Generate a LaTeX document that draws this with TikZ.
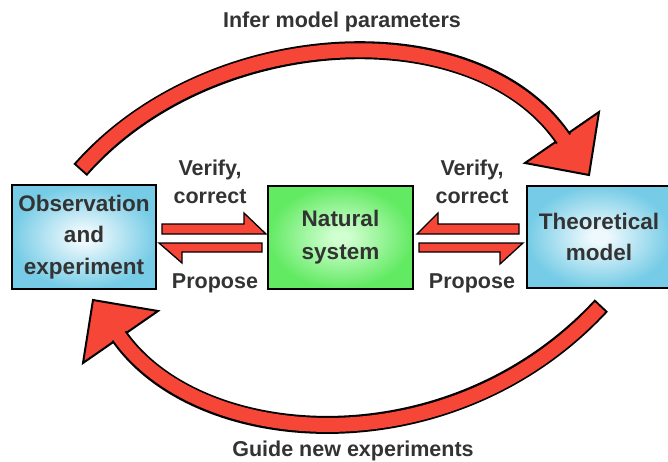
\documentclass[tikz,border=0pt]{standalone}
\usepackage{fontspec}
\setmainfont{Liberation Sans}
\usepackage{tikz}
\usetikzlibrary{calc}

\definecolor{arrowRed}{RGB}{245,70,55}
\definecolor{textGray}{RGB}{51,51,51}
\definecolor{blueEdge}{RGB}{118,204,230}
\definecolor{blueCore}{RGB}{238,249,253}
\definecolor{greenEdge}{RGB}{98,234,98}
\definecolor{greenCore}{RGB}{208,255,208}
\pgfdeclareradialshading{blueGlow}{\pgfpoint{0bp}{0bp}}{color(0bp)=(blueCore); color(3bp)=(blueCore); color(25bp)=(blueEdge); color(50bp)=(blueEdge)}
\pgfdeclareradialshading{greenGlow}{\pgfpoint{0bp}{0bp}}{color(0bp)=(greenCore); color(3bp)=(greenCore); color(25bp)=(greenEdge); color(50bp)=(greenEdge)}

\begin{document}
\begin{tikzpicture}[
    x=1pt, y=-1pt,
    every node/.style={text=textGray, font=\bfseries\fontsize{21.5}{28}\selectfont},
    blueBox/.style={rectangle, draw=black, line width=2pt, shading=blueGlow, minimum width=144pt, minimum height=104pt, inner sep=0pt, align=center, font=\bfseries\fontsize{22.5}{31.5}\selectfont},
    greenBox/.style={rectangle, draw=black, line width=2pt, shading=greenGlow, minimum width=145pt, minimum height=103pt, inner sep=0pt, align=center, font=\bfseries\fontsize{22.5}{32.5}\selectfont},
    halfArrow/.style={draw=black, line width=1.3pt, fill=arrowRed, line join=miter},
    bigHead/.style={draw=black, line width=2pt, fill=arrowRed, line join=miter},
    shaftOut/.style={draw=black, line width=18pt},
    shaftIn/.style={draw=arrowRed, line width=14pt}
]
\useasboundingbox (0,0) rectangle (668,461);

% ============== Boxes ==============
\node[blueBox]  (obs)  at (84,237)    {Observation\\and\\experiment};
\node[greenBox] (nat)  at (340.5,237) {Natural\\system};
\node[blueBox, minimum height=102pt] (theo) at (599,237) {Theoretical\\model};

% ============== Labels ==============
\node[align=center] (vcLeft)  at (210,182) {Verify,\\correct};
\node               (prLeft)  at (215,283) {Propose};
\node[align=center] (vcRight) at (472,182) {Verify,\\correct};
\node               (prRight) at (472,283) {Propose};
\node               (infer)   at (342,22)  {Infer model parameters};
\node               (guide)   at (353,451) {Guide new experiments};

% ============== Verify / propose ==============
\draw[halfArrow] ($(obs.east)+(5,-13)$) -- ++(82,0) -- ++(0,-11) -- ++(22,21) -- ++(-104,0) -- cycle;
\draw[halfArrow] ($(nat.west)+(-5,6)$) -- ++(-103,0) -- ++(23,20) -- ++(0,-11) -- ++(80,0) -- cycle;
\draw[halfArrow] ($(theo.west)+(-7,-13)$) -- ++(-81,0) -- ++(0,-11) -- ++(-21,21) -- ++(102,0) -- cycle;
\draw[halfArrow] ($(nat.east)+(5,6)$) -- ++(104,0) -- ++(-23,21) -- ++(0,-12) -- ++(-81,0) -- cycle;

% ============== Infer model parameters ==============
\coordinate (inferA) at ($(obs.north)+(-2.5,-15.5)$);
\coordinate (inferB) at ($(theo.north)+(-35.5,-46)$);
\draw[bigHead] ($(inferB)+(35.5,-27)$) -- ($(inferB)+(25.5,36)$) -- ($(inferB)+(-38.5,24)$) -- cycle;
\draw[shaftOut, shorten <=-2pt] (inferA) .. controls +(128.7,-146.25) and +(-86.8,-128.7) .. (inferB);
\draw[shaftIn, shorten >=-1.5pt] (inferA) .. controls +(128.7,-146.25) and +(-86.8,-128.7) .. (inferB);

% ============== Guide new experiments ==============
\coordinate (guideA) at ($(theo.south)+(1,18)$);
\coordinate (guideB) at ($(obs.south)+(35,46)$);
\draw[bigHead] ($(guideB)+(-26,-36)$) -- ($(guideB)+(39,-25)$) -- ($(guideB)+(-36,27)$) -- cycle;
\draw[shaftOut, shorten <=-2pt] (guideA) .. controls +(-149.6,161.3) and +(79.8,114.8) .. (guideB);
\draw[shaftIn, shorten >=-1.5pt] (guideA) .. controls +(-149.6,161.3) and +(79.8,114.8) .. (guideB);
\end{tikzpicture}
\end{document}
